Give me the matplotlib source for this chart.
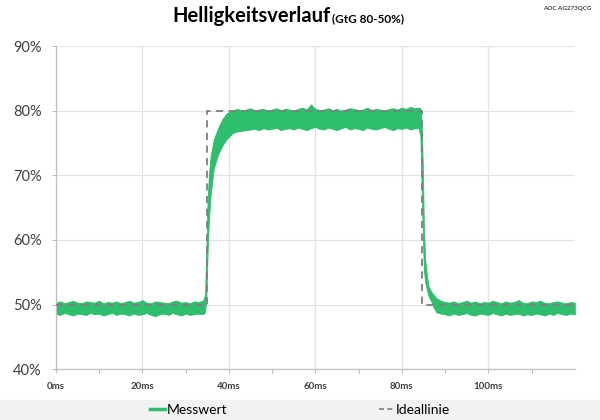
import matplotlib
matplotlib.use('Agg')
import matplotlib.pyplot as plt
from matplotlib.lines import Line2D
from matplotlib.patches import Rectangle

plt.rcParams['font.family'] = ['Lato', 'DejaVu Sans']

# measured band (upper / lower envelope), time in ms, brightness in %
base1_t = list(range(0, 35))
base1_hi = [50.3, 50.5, 50.2, 50.4, 50.6, 50.3, 50.2, 50.5, 50.4, 50.3, 50.6, 50.2, 50.4, 50.3, 50.5, 50.2, 50.4, 50.6,
            50.3, 50.4, 50.7, 50.3, 50.2, 50.5, 50.4, 50.3, 50.2, 50.5, 50.6, 50.3, 50.4, 50.2, 50.5, 50.4, 50.6]
base1_lo = [48.6, 48.4, 48.7, 48.5, 48.3, 48.6, 48.5, 48.4, 48.7, 48.5, 48.6, 48.3, 48.5, 48.7, 48.4, 48.6, 48.5, 48.3,
            48.6, 48.4, 48.5, 48.7, 48.4, 48.2, 48.5, 48.6, 48.4, 48.7, 48.5, 48.3, 48.6, 48.4, 48.5, 48.6, 48.5]

rise_t = [34.5, 34.8, 35.0, 35.2, 35.4, 35.8, 36.5, 37.5, 38.5, 39.5, 40.5]
rise_hi = [51.5, 58.0, 64.0, 67.5, 70.0, 73.0, 75.5, 77.3, 78.7, 79.6, 80.0]
rise_lo = [48.8, 51.0, 56.0, 60.0, 63.0, 67.0, 71.0, 73.2, 74.6, 75.6, 76.3]

plat_t = list(range(41, 84))
plat_hi = [80.1, 80.3, 80.0, 80.2, 80.4, 80.1, 80.2, 80.3, 80.0, 80.2, 80.4, 80.1, 80.3, 80.2, 80.0, 80.3, 80.5, 80.2,
           81.0, 80.3, 80.1, 80.2, 80.4, 80.1, 80.3, 80.0, 80.2, 80.4, 80.3, 80.1, 80.2, 80.5, 80.1, 80.3, 80.2, 80.0,
           80.3, 80.4, 80.2, 80.5, 80.3, 80.6, 80.4]
plat_lo = [76.6, 76.8, 76.9, 77.0, 77.1, 77.2, 77.0, 77.3, 77.1, 77.2, 77.4, 77.0, 77.2, 77.3, 77.1, 77.4, 77.2, 77.0,
           77.3, 77.5, 77.2, 77.1, 77.4, 77.2, 77.0, 77.3, 77.5, 77.1, 77.3, 77.2, 77.0, 77.4, 77.2, 77.1, 77.3, 77.5,
           77.2, 77.0, 77.3, 77.2, 77.4, 77.1, 77.3]

fall_t = [83.9, 84.3, 84.6, 84.9, 85.1, 85.4, 85.8, 86.2, 86.8, 87.4, 88.0]
fall_hi = [80.5, 80.4, 78.0, 70.0, 62.0, 57.0, 54.5, 52.8, 52.0, 51.5, 51.0]
fall_lo = [77.3, 76.0, 67.8, 60.0, 55.4, 53.5, 52.3, 51.3, 50.5, 49.5, 48.8]

base2_t = list(range(89, 121))
base2_hi = [50.6, 50.4, 50.3, 50.5, 50.2, 50.4, 50.6, 50.3, 50.5, 50.2, 50.4, 50.3, 50.6, 50.4, 50.2, 50.5, 50.3, 50.4,
            50.7, 50.3, 50.2, 50.5, 50.4, 50.6, 50.3, 50.2, 50.4, 50.5, 50.3, 50.2, 50.4, 50.3]
base2_lo = [48.6, 48.5, 48.3, 48.6, 48.4, 48.5, 48.7, 48.4, 48.3, 48.6, 48.5, 48.4, 48.7, 48.5, 48.3, 48.6, 48.4, 48.5,
            48.6, 48.3, 48.5, 48.4, 48.6, 48.5, 48.3, 48.6, 48.4, 48.7, 48.5, 48.4, 48.6, 48.5]

# ideal step response
ideal_t = [0, 35, 35, 84.7, 84.7, 120]
ideal_v = [50, 50, 80, 80, 50, 50]

x_ticks = [0, 20, 40, 60, 80, 100]
x_labels = ['0ms', '20ms', '40ms', '60ms', '80ms', '100ms']
y_ticks = [40, 50, 60, 70, 80, 90]
y_labels = ['40%', '50%', '60%', '70%', '80%', '90%']

green = '#2EBE6E'
grey = '#7F7F7F'

t = base1_t + rise_t + plat_t + fall_t + base2_t
hi = base1_hi + rise_hi + plat_hi + fall_hi + base2_hi
lo = base1_lo + rise_lo + plat_lo + fall_lo + base2_lo

fig = plt.figure(figsize=(6, 4.2), dpi=100)
ax = fig.add_axes([0.093, 0.121, 0.865, 0.769])

ax.fill_between(t, lo, hi, color=green, lw=0.6, zorder=2)
ax.plot(ideal_t, ideal_v, color=grey, lw=1.3, dashes=(4, 3), zorder=3)

ax.set_xlim(0, 120)
ax.set_ylim(40, 90)
ax.set_xticks(x_ticks)
ax.set_xticklabels(x_labels, fontsize=7, fontweight='bold', color='#404040')
ax.set_xticks([10, 30, 50, 70, 90, 110], minor=True)
ax.set_yticks(y_ticks)
ax.set_yticklabels(y_labels, fontsize=10.5, color='#404040')
ax.tick_params(axis='both', which='both', length=3, width=0.8, color='#BFBFBF')
ax.tick_params(axis='x', pad=6)
ax.tick_params(axis='y', pad=7)
ax.grid(True, which='major', color='#E3E3E3', lw=0.9, zorder=0)
ax.set_axisbelow(True)
for s in ['top', 'right']:
    ax.spines[s].set_visible(False)
for s in ['left', 'bottom']:
    ax.spines[s].set_color('#BFBFBF')
    ax.spines[s].set_linewidth(0.9)

fig.text(0.551, 0.962, 'Helligkeitsverlauf', ha='right', va='center', fontsize=14.5, fontweight='bold')
fig.text(0.553, 0.955, '(GtG 80-50%)', ha='left', va='center', fontsize=8.5, fontweight='bold')
fig.text(0.985, 0.985, 'AOC AG273QCG', ha='right', va='top', fontsize=4.5, fontweight='bold', color='#404040')

fig.patches.append(Rectangle((0, 0), 1, 0.048, transform=fig.transFigure, color='#F2F2F2', zorder=0))
handles = [Line2D([], [], color=green, lw=2.5),
           Line2D([], [], color=grey, lw=1.2, dashes=(3, 2))]
fig.legend(handles, ['Messwert', 'Ideallinie'], loc='center', bbox_to_anchor=(0.5, 0.024), ncol=2,
           frameon=False, fontsize=10, handlelength=1.1, handletextpad=0.15, columnspacing=10.9,
           borderpad=0, borderaxespad=0)

fig.savefig('out.png', dpi=100)
